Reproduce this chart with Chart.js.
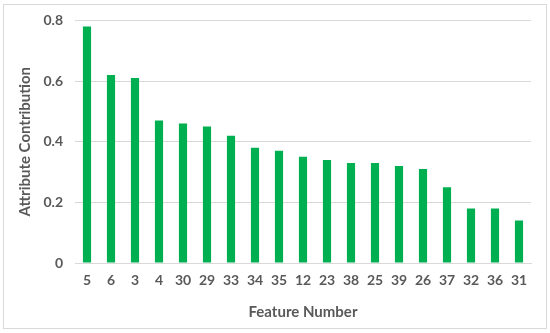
<!DOCTYPE html>
<html>
<head>
<meta charset="utf-8">
<script src="https://cdn.jsdelivr.net/npm/chart.js@4"></script>
<style>
  body { margin: 0; background: #fff; }
  #wrap { width: 550px; height: 333px; position: relative; }
</style>
</head>
<body>
<div id="wrap"><canvas id="chart"></canvas></div>
<script>
// Datos del gráfico
const features = ['5', '6', '3', '4', '30', '29', '33', '34', '35', '12', '23', '38', '25', '39', '26', '37', '32', '36', '31'];
const contribution = [0.78, 0.62, 0.61, 0.47, 0.46, 0.45, 0.42, 0.38, 0.37, 0.35, 0.34, 0.33, 0.33, 0.32, 0.31, 0.25, 0.18, 0.18, 0.14];
const yTicks = [0, 0.2, 0.4, 0.6, 0.8];

const textColor = '#595959';
const fontFam = 'Lato, "Open Sans", sans-serif';

// Marco exterior del gráfico
const framePlugin = {
  id: 'frame',
  beforeDraw(chart) {
    const c = chart.ctx;
    c.save();
    c.fillStyle = '#fff';
    c.fillRect(0, 0, chart.width, chart.height);
    c.strokeStyle = '#d9d9d9';
    c.lineWidth = 1;
    c.strokeRect(3.5, 4.5, 543, 324);
    c.restore();
  }
};

const ctx = document.getElementById('chart').getContext('2d');
new Chart(ctx, {
  type: 'bar',
  data: {
    labels: features,
    datasets: [{
      data: contribution,
      backgroundColor: '#00B050',
      barPercentage: 0.34,
      categoryPercentage: 1
    }]
  },
  options: {
    responsive: true,
    maintainAspectRatio: false,
    animation: false,
    layout: { padding: { left: 8, right: 19, top: 13, bottom: 12 } },
    plugins: { legend: { display: false }, tooltip: { enabled: false } },
    scales: {
      x: {
        afterFit(axis) { axis.height = 58; }, // alto fijo del eje X
        grid: { display: false, drawTicks: false },
        border: { display: true, color: '#d9d9d9' },
        ticks: { color: textColor, font: { family: fontFam, size: 14, weight: 'bold' }, padding: 9 },
        title: { display: true, text: 'Feature Number', color: textColor, font: { family: fontFam, size: 15, weight: 'bold' }, padding: { top: 8, bottom: 0 } }
      },
      y: {
        min: 0,
        max: 0.8,
        afterBuildTicks(axis) { axis.ticks = yTicks.map(v => ({ value: v })); },
        afterFit(axis) { axis.width = 67; },
        grid: { color: '#d9d9d9', drawTicks: false },
        border: { display: false },
        ticks: {
          color: textColor,
          font: { family: fontFam, size: 14, weight: 'bold' },
          padding: 12,
          callback: v => (v === 0 ? '0' : v.toFixed(1))
        },
        title: { display: true, text: 'Attribute Contribution', color: textColor, font: { family: fontFam, size: 15, weight: 'bold' }, padding: { top: 8, bottom: 0 } }
      }
    }
  },
  plugins: [framePlugin]
});
</script>
</body>
</html>
